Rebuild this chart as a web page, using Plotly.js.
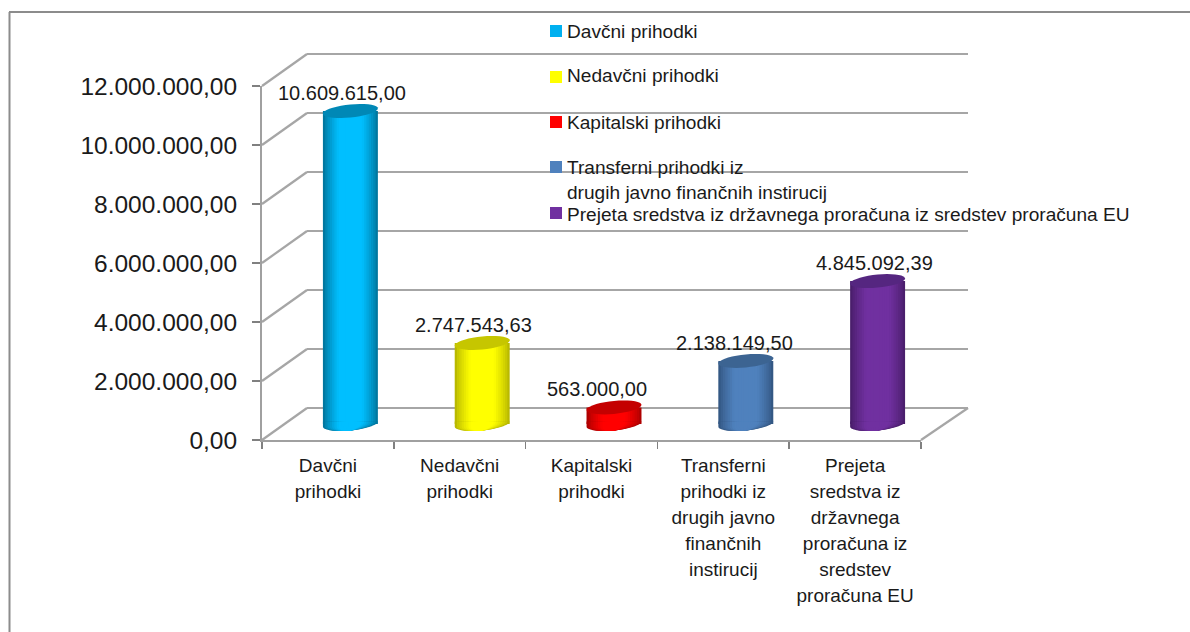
<!DOCTYPE html>
<html><head><meta charset="utf-8">
<script src="https://cdn.plot.ly/plotly-3.0.1.min.js"></script>
<style>html,body{margin:0;padding:0;background:#fff}#c{width:1190px;height:632px}</style>
</head><body><div id="c"></div>
<script>
const categories = ["Davčni prihodki","Nedavčni prihodki","Kapitalski prihodki","Transferni prihodki iz drugih javno finančnih instirucij","Prejeta sredstva iz državnega proračuna iz sredstev proračuna EU"];
const categoryLines = [["Davčni","prihodki"],["Nedavčni","prihodki"],["Kapitalski","prihodki"],["Transferni","prihodki iz","drugih javno","finančnih","instirucij"],["Prejeta","sredstva iz","državnega","proračuna iz","sredstev","proračuna EU"]];
const values = [10609615.00, 2747543.63, 563000.00, 2138149.50, 4845092.39];
const valueLabels = ["10.609.615,00","2.747.543,63","563.000,00","2.138.149,50","4.845.092,39"];
const tickValues = [0,2000000,4000000,6000000,8000000,10000000,12000000];
const legendLabels = ["Davčni prihodki","Nedavčni prihodki","Kapitalski prihodki","Transferni prihodki iz<br>drugih javno finančnih instirucij","Prejeta sredstva iz državnega proračuna iz sredstev proračuna EU"];
const bodyColors = [[0,191,255],[255,255,0],[255,0,0],[79,129,189],[112,48,160]];
const edgeColors = [[0,120,160],[185,185,0],[175,0,0],[52,88,132],[74,30,108]];
const capColors = ["#0088b6","#c6c600","#c40000","#3c6492","#552680"];
const legendColors = ["#00b0f0","#ffff00","#ff0000","#4f81bd","#7030a0"];
const labelOffsetX = [-8,-9,-17,-11,-3];
const labelOffsetY = [5,5,5,5,5];
const legendY = [31,77,122,167,213];
const legendTextY = [31,76,122,180,214];

const W=1190,H=632;
const FX0=262,FX1=921,FY0=440,FY12=86;      // front axis box in px
const DX=45,DY=-32;                         // depth of the 3-D floor
const PXU=(FY0-FY12)/12000000;
const fx=p=>p/W, fy=p=>1-p/H;
const font="Liberation Sans, Arial, sans-serif", ink="#1a1a1a", gray="#a6a6a6";
const categoryLabels = categoryLines.map(ls=>ls.map(l=>'<span style="font-size:19px">'+l+'</span>').join("<br>"));

// axis 1: back wall, axis 2: front axes, axis 3: cylinders at mid-depth
const barY0=FY0+DY/2, yLow=-1000000, yHigh=13000000;
const wallY0=FY0+DY;
const layout={
  width:W,height:H,margin:{l:0,r:0,t:0,b:0},paper_bgcolor:"#fff",plot_bgcolor:"rgba(0,0,0,0)",
  showlegend:false,barmode:"overlay",separators:",.",
  xaxis:{domain:[fx(FX0+DX),fx(FX1+DX+2)],range:[-0.5,4.5],showgrid:false,zeroline:false,showline:false,showticklabels:false,ticks:"",fixedrange:true},
  yaxis:{domain:[fy(wallY0-yLow*PXU),fy(wallY0-yHigh*PXU)],range:[yLow,yHigh],tickvals:tickValues,showgrid:true,gridcolor:gray,gridwidth:2.2,zeroline:false,showline:false,showticklabels:false,ticks:"",fixedrange:true},
  xaxis2:{domain:[fx(FX0),fx(FX1)],anchor:"y2",type:"category",categoryorder:"array",categoryarray:categories,tickvals:categories,ticktext:categoryLabels,range:[-0.5,4.5],tickson:"boundaries",
    showgrid:false,zeroline:false,showline:true,linecolor:"#a0a0a0",linewidth:2,ticks:"outside",ticklen:7,tickwidth:1.5,tickcolor:"#808080",tickfont:{family:font,size:20,color:ink},ticklabelstandoff:6,tickangle:0,fixedrange:true},
  yaxis2:{domain:[fy(FY0),fy(FY12)],anchor:"x2",range:[0,12000000],tickvals:tickValues,tickformat:",.2f",
    showgrid:false,zeroline:false,showline:true,linecolor:"#a0a0a0",linewidth:2,ticks:"outside",ticklen:8,tickwidth:1.5,tickcolor:"#808080",tickfont:{family:font,size:24.5,color:ink},ticklabelstandoff:10,fixedrange:true},
  xaxis3:{domain:[fx(FX0+DX/2),fx(FX1+DX/2)],anchor:"y3",range:[-0.5,4.5],visible:false,fixedrange:true},
  yaxis3:{domain:[fy(barY0-yLow*PXU),fy(barY0-yHigh*PXU)],anchor:"x3",range:[yLow,yHigh],visible:false,fixedrange:true},
  shapes:[],annotations:[]
};

// frame
layout.shapes.push({type:"line",xref:"paper",yref:"paper",x0:fx(9.5),x1:fx(9.5),y0:fy(12),y1:fy(632),line:{color:"#8c8c8c",width:2}});
layout.shapes.push({type:"line",xref:"paper",yref:"paper",x0:fx(9),x1:fx(1190),y0:fy(12),y1:fy(12),line:{color:"#8c8c8c",width:2}});
// floor/wall diagonals from each tick
tickValues.forEach(v=>{
  const py=FY0-v*PXU;
  layout.shapes.push({type:"line",xref:"paper",yref:"paper",layer:"below",x0:fx(FX0),y0:fy(py),x1:fx(FX0+DX),y1:fy(py+DY),line:{color:gray,width:2.2}});
});
layout.shapes.push({type:"line",xref:"paper",yref:"paper",layer:"below",x0:fx(FX1),y0:fy(FY0),x1:fx(FX1+DX+2),y1:fy(FY0+DY),line:{color:gray,width:2.2}});

// cylinders
const barFrac=0.417, N=12;
const xIdx=categories.map((_,i)=>i);
const traces=[];
traces.push({type:"scatter",x:xIdx,y:values,xaxis:"x",yaxis:"y",mode:"markers",marker:{opacity:0},hoverinfo:"skip"});
traces.push({type:"scatter",x:categories,y:values,xaxis:"x2",yaxis:"y2",mode:"markers",marker:{opacity:0},hoverinfo:"skip"});
const mix=(a,b,t)=>"rgb("+a.map((c,i)=>Math.round(c+(b[i]-c)*t)).join(",")+")";
const a=27.5/132, pxB=6.5/PXU, pxT=2.6/PXU;
function ellipse(cx,cy,ra,from,to,closeUp){
  const pts=[];
  for(let k=0;k<=36;k++){
    const t=from+(to-from)*k/36;
    const u=Math.cos(t), s=Math.sin(t);
    pts.push((cx+ra*u).toFixed(4)+","+(cy+(pxB*s+pxT*u)).toFixed(1));
  }
  if(closeUp){ // seal the tilted chord against the flat foot of the bar
    pts.push((cx+ra).toFixed(4)+","+(cy+pxT).toFixed(1));
    pts.push((cx-ra).toFixed(4)+","+(cy+pxT).toFixed(1));
  }
  return "M"+pts.join("L")+"Z";
}
for(let s=0;s<N;s++){
  const f=1-s/N, t=Math.min(1,Math.pow(s/(N-1)*1.7,0.8));
  const cols=values.map((_,i)=>mix(edgeColors[i],bodyColors[i],t));
  traces.push({type:"bar",x:xIdx,y:values,xaxis:"x3",yaxis:"y3",width:barFrac*f,marker:{color:cols,line:{width:0}},hoverinfo:"skip"});
  values.forEach((_,i)=>{
    layout.shapes.push({type:"path",xref:"x3",yref:"y3",layer:"above",line:{width:0},fillcolor:cols[i],
      path:ellipse(i,0,a*f,Math.PI,2*Math.PI,true)});
  });
}
values.forEach((v,i)=>{
  layout.shapes.push({type:"path",xref:"x3",yref:"y3",layer:"above",line:{width:0},fillcolor:capColors[i],
    path:ellipse(i,v,a,0,2*Math.PI)});
  layout.annotations.push({xref:"x3",yref:"y3",x:i,y:v,text:valueLabels[i],showarrow:false,xanchor:"center",yanchor:"bottom",
    xshift:labelOffsetX[i],yshift:labelOffsetY[i],font:{family:font,size:20,color:ink}});
});
// legend
legendLabels.forEach((l,i)=>{
  layout.shapes.push({type:"rect",xref:"paper",yref:"paper",x0:fx(550),x1:fx(562),y0:fy(legendY[i]-6),y1:fy(legendY[i]+6),line:{width:0},fillcolor:legendColors[i]});
  layout.annotations.push({xref:"paper",yref:"paper",x:fx(565),y:fy(legendTextY[i]),text:l,showarrow:false,xanchor:"left",yanchor:"middle",align:"left",font:{family:font,size:19.1,color:ink}});
});
Plotly.newPlot("c",traces,layout,{displayModeBar:false,staticPlot:true});
</script></body></html>
